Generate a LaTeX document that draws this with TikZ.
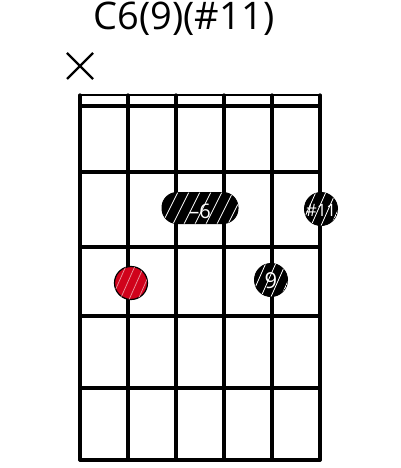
\documentclass[tikz,border=0pt]{standalone}
\usepackage{fontspec}
\setmainfont{Open Sans}
\usetikzlibrary{shapes.geometric}
\definecolor{rootred}{HTML}{D0021B}
\tikzset{
  gridline/.style={line width=3.2pt, line cap=round},
  dotblack/.style={circle, fill=black, draw=black, line width=1pt, minimum size=33pt, inner sep=0pt},
  dotred/.style={circle, fill=rootred, draw=black, line width=1.2pt, minimum size=33pt, inner sep=0pt},
  barre/.style={rounded corners=15pt, fill=black, draw=black, line width=1pt, minimum width=76pt, minimum height=31pt, inner sep=0pt},
  hatch/.style={white, line width=0.8pt},
  dotlabel/.style={text=white, inner sep=0pt}
}
\begin{document}
\begin{tikzpicture}[x=1pt,y=-1pt]
\useasboundingbox (0,0) rectangle (400,468);
% title
\node[font=\fontsize{38}{38}\selectfont, anchor=base, inner sep=0pt] (title) at (184,30) {C6(9)(\#11)};
% mute marker
\draw[line width=2.4pt] (67,53) -- (93,79) (93,53) -- (67,79);
% nut
\draw[line width=1.6pt] (80,95) -- (320,95);
% strings
\foreach \x in {80,128,176,224,272,320} \draw[gridline] (\x,95) -- (\x,460);
% frets
\foreach \y in {106,172,247,316,388,460} \draw[gridline] (80,\y) -- (320,\y);
% barre on strings 3-4
\node[barre] (b) at (200,208) {};
\begin{scope}
\clip[rounded corners=15pt] (162,192.5) rectangle (238,223.5);
\foreach \d in {0,11,...,90} \draw[hatch] (150+\d,226) -- (168+\d,190);
\end{scope}
\node[dotlabel, font=\fontsize{20}{20}\selectfont] (bl) at (200,211) {–6};
% #11
\node[dotblack] (d11) at (321,209) {};
\begin{scope}
\clip (321,209) circle (16.5);
\foreach \d in {0,10,...,35} \draw[hatch] (300+\d,228) -- (316+\d,192);
\end{scope}
\node[dotlabel, font=\fontsize{17}{17}\selectfont] (l11) at (321,210) {\#11};
% 9
\node[dotblack] (d9) at (271,280) {};
\begin{scope}
\clip (271,280) circle (16.5);
\foreach \d in {0,10,...,35} \draw[hatch] (250+\d,299) -- (266+\d,263);
\end{scope}
\node[dotlabel, font=\fontsize{22}{22}\selectfont] (l9) at (271,281) {9};
% root
\node[dotred] (r) at (131,283) {};
\begin{scope}
\clip (131,283) circle (16.5);
\foreach \d in {0,9,...,35} \draw[white!60!rootred, line width=0.7pt] (110+\d,302) -- (126+\d,266);
\end{scope}
\end{tikzpicture}
\end{document}
